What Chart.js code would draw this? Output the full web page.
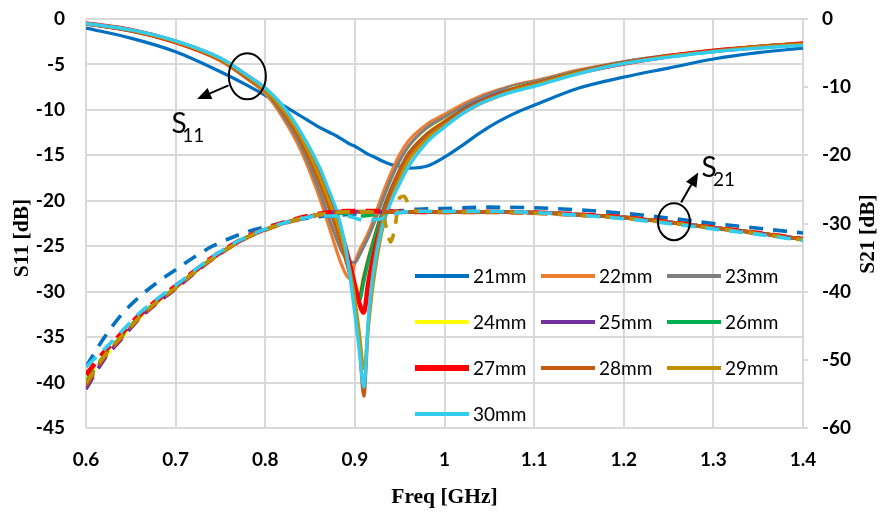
<!DOCTYPE html>
<html><head><meta charset="utf-8">
<script src="https://cdn.jsdelivr.net/npm/chart.js@4.4.0/dist/chart.umd.min.js"></script>
<style>html,body{margin:0;padding:0;background:#fff;}#wrap{width:888px;height:512px;}</style>
</head><body><div id="wrap"><canvas id="c" width="888" height="512"></canvas></div>
<script>
// ---------- DATA ----------
const seriesNames = ['21mm','22mm','23mm','24mm','25mm','26mm','27mm','28mm','29mm','30mm'];
const xTickLabels = ['0.6','0.7','0.8','0.9','1','1.1','1.2','1.3','1.4'];
const s11TickLabels = ['0','-5','-10','-15','-20','-25','-30','-35','-40','-45'];
const s21TickLabels = ['0','-10','-20','-30','-40','-50','-60'];

const freqS11 = [0.6,0.65,0.7,0.75,0.78,0.8,0.82,0.84,0.86,0.87,0.88,0.885,0.89,0.895,0.9,0.905,0.91,0.915,0.92,0.93,0.94,0.95,0.96,0.98,1.0,1.02,1.04,1.06,1.08,1.1,1.15,1.2,1.25,1.3,1.35,1.4];
const s11_21mm = [-1.0,-2.1,-3.6,-5.8,-7.3,-8.4,-9.5,-10.7,-11.9,-12.4,-12.9,-13.2,-13.5,-13.8,-14.0,-14.3,-14.6,-14.9,-15.1,-15.6,-16.0,-16.2,-16.4,-16.2,-15.2,-13.9,-12.5,-11.3,-10.3,-9.5,-7.6,-6.4,-5.4,-4.4,-3.7,-3.2];
const s11_22mm = [-0.5,-1.3,-2.6,-4.6,-6.6,-8.2,-10.9,-14.5,-19.5,-22.5,-25.6,-27.0,-28.1,-28.6,-26.8,-25.5,-24.5,-23.5,-22.3,-19.5,-17.0,-14.9,-13.4,-11.6,-10.5,-9.4,-8.5,-7.8,-7.2,-6.8,-5.6,-4.7,-4.0,-3.5,-3.0,-2.7];
const s11_23mm = [-0.5,-1.3,-2.5,-4.5,-6.5,-8.0,-10.6,-14.0,-18.8,-21.6,-24.3,-25.5,-26.3,-26.7,-26.8,-26.0,-25.0,-24.0,-22.8,-20.2,-17.7,-15.6,-14.0,-12.0,-10.8,-9.7,-8.7,-7.9,-7.3,-6.9,-5.7,-4.7,-4.0,-3.5,-3.0,-2.7];
const s11_24mm = [-0.5,-1.2,-2.5,-4.4,-6.4,-7.9,-10.2,-13.4,-17.8,-20.4,-23.2,-24.8,-26.4,-28.0,-29.3,-29.8,-28.0,-26.2,-24.4,-21.3,-18.7,-16.5,-14.7,-12.6,-11.2,-10.0,-9.0,-8.2,-7.5,-7.1,-5.8,-4.8,-4.1,-3.5,-3.1,-2.8];
const s11_25mm = [-0.5,-1.2,-2.5,-4.4,-6.4,-7.8,-10.1,-13.3,-17.6,-20.2,-23.0,-24.6,-26.3,-28.2,-29.8,-30.5,-28.4,-26.4,-24.6,-21.4,-18.8,-16.6,-14.8,-12.7,-11.3,-10.0,-9.0,-8.2,-7.6,-7.1,-5.8,-4.8,-4.1,-3.5,-3.1,-2.8];
const s11_26mm = [-0.5,-1.2,-2.5,-4.4,-6.3,-7.8,-10.0,-13.1,-17.3,-19.8,-22.6,-24.2,-26.0,-28.1,-30.0,-31.0,-28.9,-26.7,-24.8,-21.6,-19.0,-16.8,-15.0,-12.9,-11.4,-10.1,-9.1,-8.3,-7.6,-7.1,-5.8,-4.8,-4.1,-3.5,-3.1,-2.8];
const s11_27mm = [-0.5,-1.2,-2.5,-4.4,-6.3,-7.7,-9.9,-12.9,-17.0,-19.4,-22.1,-23.6,-25.3,-27.2,-29.3,-31.3,-32.3,-29.0,-26.4,-22.4,-19.5,-17.2,-15.3,-13.1,-11.6,-10.3,-9.2,-8.4,-7.7,-7.2,-5.9,-4.9,-4.1,-3.5,-3.1,-2.7];
const s11_28mm = [-0.5,-1.3,-2.5,-4.5,-6.5,-7.9,-10.3,-13.5,-17.9,-20.5,-23.3,-24.9,-26.6,-28.5,-31.5,-36.0,-41.5,-33.5,-28.0,-22.0,-19.0,-16.7,-14.9,-12.8,-11.3,-10.1,-9.1,-8.3,-7.6,-7.1,-5.8,-4.8,-4.1,-3.5,-3.0,-2.7];
const s11_29mm = [-0.5,-1.2,-2.5,-4.4,-6.3,-7.8,-10.0,-13.0,-17.2,-19.7,-22.4,-24.0,-25.8,-27.9,-30.8,-34.5,-38.5,-34.0,-29.5,-23.5,-20.0,-17.5,-15.5,-13.2,-11.7,-10.4,-9.3,-8.5,-7.8,-7.3,-5.9,-4.9,-4.1,-3.6,-3.1,-2.8];
const s11_30mm = [-0.5,-1.2,-2.4,-4.3,-6.2,-7.6,-9.6,-12.5,-16.2,-18.6,-21.2,-23.0,-25.3,-28.6,-32.4,-36.5,-40.5,-33.0,-28.3,-23.0,-20.2,-18.1,-16.2,-13.6,-11.9,-10.4,-9.3,-8.5,-7.9,-7.4,-6.0,-4.9,-4.2,-3.6,-3.2,-2.9];

const freqS21 = [0.6,0.62,0.64,0.66,0.68,0.7,0.72,0.74,0.76,0.78,0.8,0.83,0.86,0.89,0.91,0.93,0.935,0.94,0.945,0.95,0.955,0.96,0.97,1.0,1.05,1.1,1.15,1.2,1.25,1.3,1.35,1.4];
const s21_21mm = [-51.0,-46.8,-43.3,-40.7,-38.6,-36.8,-35.0,-33.4,-32.2,-31.2,-30.5,-29.6,-29.0,-28.7,-28.5,-28.3,-28.3,-28.2,-28.2,-28.1,-28.1,-28.0,-27.9,-27.8,-27.6,-27.7,-28.0,-28.5,-29.2,-30.0,-30.7,-31.4];
const s21_22mm = [-54.0,-49.8,-46.8,-43.9,-41.6,-39.6,-37.4,-35.4,-33.6,-32.1,-31.0,-29.7,-28.8,-28.4,-28.2,-28.3,-28.3,-28.3,-28.3,-28.3,-28.3,-28.3,-28.3,-28.3,-28.3,-28.4,-28.7,-29.1,-29.8,-30.6,-31.4,-32.3];
const s21_23mm = [-53.6,-49.6,-46.6,-43.7,-41.5,-39.5,-37.3,-35.3,-33.5,-32.0,-30.9,-29.6,-28.7,-28.3,-28.3,-28.3,-28.3,-28.3,-28.3,-28.3,-28.3,-28.3,-28.3,-28.3,-28.3,-28.4,-28.7,-29.1,-29.8,-30.6,-31.4,-32.3];
const s21_24mm = [-52.8,-49.7,-46.7,-43.8,-41.5,-39.5,-37.3,-35.3,-33.5,-32.0,-30.9,-29.6,-28.7,-28.3,-28.5,-28.3,-28.3,-28.3,-28.3,-28.3,-28.3,-28.3,-28.3,-28.3,-28.3,-28.4,-28.7,-29.1,-29.8,-30.6,-31.4,-32.3];
const s21_25mm = [-54.3,-50.0,-46.9,-43.9,-41.6,-39.6,-37.4,-35.3,-33.5,-32.0,-30.9,-29.6,-28.7,-28.2,-28.3,-28.3,-28.3,-28.3,-28.3,-28.3,-28.3,-28.3,-28.3,-28.3,-28.3,-28.4,-28.7,-29.1,-29.8,-30.6,-31.4,-32.3];
const s21_26mm = [-53.2,-49.4,-46.5,-43.6,-41.4,-39.4,-37.2,-35.2,-33.5,-32.0,-30.9,-29.6,-28.7,-28.5,-28.9,-28.5,-28.4,-28.3,-28.3,-28.3,-28.3,-28.3,-28.3,-28.3,-28.3,-28.4,-28.7,-29.1,-29.8,-30.6,-31.4,-32.3];
const s21_27mm = [-52.2,-48.9,-46.1,-43.4,-41.2,-39.2,-37.1,-35.1,-33.4,-31.9,-30.8,-29.5,-28.6,-28.2,-28.2,-28.2,-28.2,-28.2,-28.3,-28.3,-28.3,-28.3,-28.3,-28.3,-28.3,-28.4,-28.7,-29.1,-29.8,-30.6,-31.4,-32.3];
const s21_28mm = [-53.8,-49.7,-46.7,-43.8,-41.5,-39.5,-37.3,-35.3,-33.5,-32.0,-30.9,-29.6,-28.7,-28.3,-28.3,-28.3,-28.3,-28.3,-28.3,-28.3,-28.3,-28.3,-28.3,-28.3,-28.3,-28.4,-28.7,-29.1,-29.8,-30.6,-31.4,-32.3];
const s21_29mm = [-53.4,-49.5,-46.5,-43.7,-41.4,-39.4,-37.2,-35.2,-33.5,-32.0,-30.9,-29.6,-28.7,-28.3,-28.3,-28.4,-30.5,-32.7,-30.3,-26.2,-26.0,-27.2,-28.2,-28.3,-28.3,-28.5,-28.8,-29.2,-29.9,-30.7,-31.5,-32.4];
const s21_30mm = [-51.0,-48.5,-45.8,-43.1,-41.0,-39.1,-37.0,-35.0,-33.3,-31.9,-30.8,-29.6,-28.9,-28.9,-29.5,-29.3,-29.0,-28.8,-28.6,-28.4,-28.3,-28.3,-28.2,-28.2,-28.2,-28.4,-28.8,-29.3,-30.0,-30.8,-31.6,-32.5];

const s11Series = [s11_21mm,s11_22mm,s11_23mm,s11_24mm,s11_25mm,s11_26mm,s11_27mm,s11_28mm,s11_29mm,s11_30mm];
const s21Series = [s21_21mm,s21_22mm,s21_23mm,s21_24mm,s21_25mm,s21_26mm,s21_27mm,s21_28mm,s21_29mm,s21_30mm];

// ---------- STYLE ----------
const colors = ['#0070C0','#ED7D31','#7F7F7F','#FFFF00','#7030A0','#00B050','#FF0000','#C55A11','#BF9000','#33CCEE'];
const lineW = [3.2,3.2,3.2,3.2,3.2,3.2,4.6,3.2,3.2,3.4];
const legendW = [4,4,4,4,4,4,6,4,4,4];
const tickFont = {family: "Lato, 'Liberation Sans', sans-serif", size: 19, weight: 'bold'};
const titleFont = "bold 21.5px 'Liberation Serif', 'Times New Roman', serif";
const gridColor = '#d9d9d9';

const datasets = [];
s11Series.forEach((vals, i) => datasets.push({
  label: seriesNames[i] + ' S11',
  data: vals.map((v, k) => ({x: freqS11[k], y: v})),
  borderColor: colors[i], backgroundColor: colors[i],
  borderWidth: lineW[i], pointRadius: 0, fill: false,
  cubicInterpolationMode: 'monotone', yAxisID: 'y', order: 20 - i
}));
s21Series.forEach((vals, i) => datasets.push({
  label: seriesNames[i] + ' S21',
  data: vals.map((v, k) => ({x: freqS21[k], y: v})),
  borderColor: colors[i], backgroundColor: colors[i],
  borderWidth: i === 6 ? 4.8 : 3.6, borderDash: [14, 10], pointRadius: 0, fill: false,
  cubicInterpolationMode: 'monotone', yAxisID: 'y2', order: 10 - i
}));

function arrow(ctx, x1, y1, x2, y2, head, w) {
  const a = Math.atan2(y2 - y1, x2 - x1);
  const bx = x2 - head * Math.cos(a), by = y2 - head * Math.sin(a);
  ctx.beginPath(); ctx.moveTo(x1, y1); ctx.lineTo(bx, by); ctx.stroke();
  ctx.beginPath(); ctx.moveTo(x2, y2);
  ctx.lineTo(bx + w * Math.sin(a), by - w * Math.cos(a));
  ctx.lineTo(bx - w * Math.sin(a), by + w * Math.cos(a));
  ctx.closePath(); ctx.fill();
}

const overlay = {
  id: 'overlay',
  afterDatasetsDraw(chart) {
    const ctx = chart.ctx, xs = chart.scales.x, ys = chart.scales.y, ca = chart.chartArea;
    const px = v => xs.getPixelForValue(v), py = v => ys.getPixelForValue(v);
    ctx.save();
    ctx.strokeStyle = '#000'; ctx.fillStyle = '#000'; ctx.lineWidth = 2;
    // S11 annotation
    ctx.beginPath(); ctx.ellipse(px(0.780), py(-6.3), 18.5, 23, 0, 0, Math.PI * 2); ctx.stroke();
    arrow(ctx, px(0.759), py(-7.3), px(0.724), py(-8.8), 14, 6);
    ctx.textBaseline = 'alphabetic'; ctx.textAlign = 'left';
    ctx.font = "28px Lato, 'Liberation Sans', sans-serif";
    ctx.fillText('S', px(0.6955), py(-12.55));
    ctx.font = "19px Lato, 'Liberation Sans', sans-serif";
    ctx.fillText('11', px(0.7075), py(-13.5));
    // S21 annotation
    ctx.beginPath(); ctx.ellipse(px(1.256), py(-22.3), 16, 18.5, 0, 0, Math.PI * 2); ctx.stroke();
    arrow(ctx, px(1.264), py(-20.2), px(1.283), py(-16.9), 14, 6);
    ctx.font = "28px Lato, 'Liberation Sans', sans-serif";
    ctx.fillText('S', px(1.2868), py(-17.4));
    ctx.font = "19px Lato, 'Liberation Sans', sans-serif";
    ctx.fillText('21', px(1.2995), py(-18.4));
    // Legend
    ctx.font = "19px Lato, 'Liberation Sans', sans-serif";
    ctx.textBaseline = 'middle';
    seriesNames.forEach((n, i) => {
      const col = i % 3, row = Math.floor(i / 3);
      const x0 = ca.left + 329 + col * 126, y0 = ca.top + 257 + row * 46;
      ctx.strokeStyle = colors[i]; ctx.lineWidth = legendW[i];
      ctx.beginPath(); ctx.moveTo(x0, y0); ctx.lineTo(x0 + 54, y0); ctx.stroke();
      ctx.fillStyle = '#000';
      ctx.fillText(n, x0 + 58, y0 + 1);
    });
    ctx.restore();
  },
  afterDraw(chart) {
    const ctx = chart.ctx, ca = chart.chartArea;
    ctx.save();
    ctx.font = titleFont; ctx.fillStyle = '#000';
    ctx.textAlign = 'center'; ctx.textBaseline = 'middle';
    ctx.translate(ca.left - 64, ca.top + 219); ctx.rotate(-Math.PI / 2);
    ctx.fillText('S11 [dB]', 0, 0);
    ctx.restore();
    ctx.save();
    ctx.font = titleFont; ctx.fillStyle = '#000';
    ctx.textAlign = 'center'; ctx.textBaseline = 'middle';
    ctx.translate(ca.right + 65, ca.top + 215); ctx.rotate(-Math.PI / 2);
    ctx.fillText('S21 [dB]', 0, 0);
    ctx.restore();
  }
};

function fixY(w) {
  return s => { s.width = w; s.paddingTop = 0; s.paddingBottom = 0; };
}

new Chart(document.getElementById('c'), {
  type: 'line',
  data: {datasets},
  plugins: [overlay],
  options: {
    responsive: false, animation: false, devicePixelRatio: 1,
    layout: {padding: {top: 19, left: 0, right: 0, bottom: 0}},
    plugins: {legend: {display: false}, tooltip: {enabled: false}},
    scales: {
      x: {
        type: 'linear', min: 0.6, max: 1.4,
        afterFit: s => { s.height = 84; s.paddingLeft = 0; s.paddingRight = 0; },
        grid: {color: gridColor, lineWidth: 2, drawTicks: false},
        border: {display: false},
        ticks: {stepSize: 0.1, autoSkip: false, maxRotation: 0, padding: 20, color: '#000', font: tickFont,
          callback: v => xTickLabels[Math.round((v - 0.6) * 10)] ?? ''},
        title: {display: true, text: 'Freq [GHz]', color: '#000',
          font: {family: "'Liberation Serif', 'Times New Roman', serif", size: 21.5, weight: 'bold'},
          padding: {top: 0, bottom: 2}}
      },
      y: {
        type: 'linear', position: 'left', min: -45, max: 0,
        afterFit: fixY(86),
        grid: {color: gridColor, lineWidth: 2, drawTicks: false},
        border: {display: false},
        ticks: {stepSize: 5, padding: 21, color: '#000', font: tickFont,
          callback: v => s11TickLabels[Math.round(-v / 5)] ?? ''}
      },
      y2: {
        type: 'linear', position: 'right', min: -60, max: 0,
        afterFit: fixY(85),
        grid: {drawOnChartArea: false, drawTicks: true, tickLength: 5, color: gridColor, lineWidth: 2},
        border: {display: true, color: gridColor, width: 2},
        ticks: {stepSize: 10, padding: 14, color: '#000', font: tickFont,
          callback: v => s21TickLabels[Math.round(-v / 10)] ?? ''}
      }
    }
  }
});
</script></body></html>
